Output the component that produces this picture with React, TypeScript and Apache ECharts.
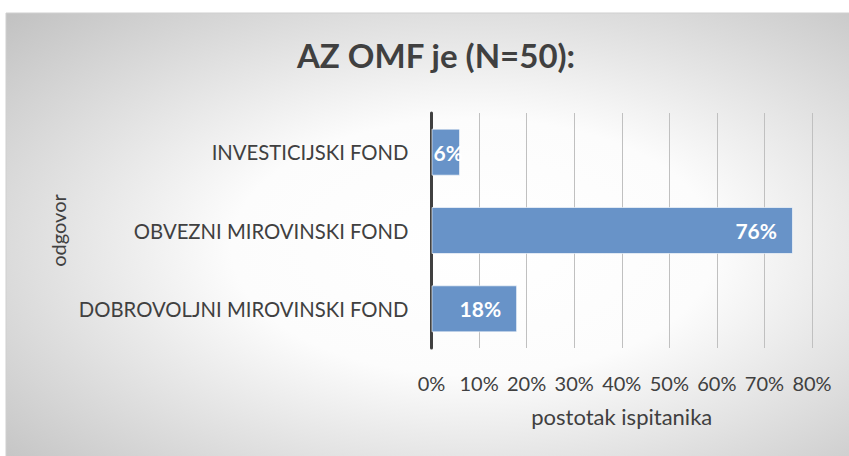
import React, { useEffect, useRef } from "react";
import * as echarts from "echarts";

const categories = ["INVESTICIJSKI FOND", "OBVEZNI MIROVINSKI FOND", "DOBROVOLJNI MIROVINSKI FOND"];
const values = [6, 76, 18];
const xTicks = { min: 0, max: 80, interval: 10 };
const titleText = "AZ OMF je (N=50):";
const xName = "postotak ispitanika";
const yName = "odgovor";

const FONT = "Lato";

export default function App() {
  const ref = useRef<HTMLDivElement>(null);
  useEffect(() => {
    if (!ref.current) return;
    const chart = echarts.init(ref.current, null, { renderer: "svg" });
    chart.setOption({
      animation: false,
      textStyle: { fontFamily: FONT },
      graphic: [
        {
          type: "rect",
          z: -100,
          silent: true,
          shape: { x: 6, y: 13, width: 850, height: 450 },
          style: {
            fill: new echarts.graphic.RadialGradient(0.55, 0.52, 0.75, [
              { offset: 0, color: "#ffffff" },
              { offset: 0.38, color: "#fcfcfc" },
              { offset: 1, color: "#c2c2c2" },
            ]),
            stroke: "#cfcfcf",
            lineWidth: 1,
          },
        },
      ],
      title: {
        text: titleText,
        left: 431,
        textAlign: "center",
        top: 33,
        textStyle: { fontFamily: FONT, fontSize: 33, fontWeight: "bold", color: "#404040" },
      },
      grid: { left: 431.5, right: 37, top: 113, bottom: 108 },
      xAxis: {
        type: "value",
        min: xTicks.min,
        max: xTicks.max,
        interval: xTicks.interval,
        axisLine: { show: false },
        axisTick: { show: false },
        splitLine: { show: true, lineStyle: { color: "#c0c0c0", width: 1 } },
        axisLabel: { formatter: "{value}%", fontSize: 20, color: "#404040", margin: 25, fontFamily: FONT },
        name: xName,
        nameLocation: "middle",
        nameGap: 57,
        nameTextStyle: { fontSize: 22, color: "#404040", fontFamily: FONT },
      },
      yAxis: {
        type: "category",
        data: categories,
        inverse: true,
        axisLine: { show: true, lineStyle: { color: "#404040", width: 3 } },
        axisTick: { show: false },
        axisLabel: { fontSize: 20.3, color: "#404040", margin: 23, fontFamily: FONT },
        name: yName,
        nameLocation: "middle",
        nameGap: 364,
        nameRotate: 90,
        nameTextStyle: { fontSize: 20, color: "#404040", fontFamily: FONT },
      },
      series: [
        {
          type: "bar",
          barWidth: "60%",
          data: values.map((v) => ({
            value: v,
            label: v < 10 ? { position: "insideLeft", distance: 2 } : undefined,
          })),
          itemStyle: { color: "#6893c8", borderColor: "rgba(255,255,255,0.6)", borderWidth: 1 },
          label: {
            show: true,
            position: "insideRight",
            distance: 16,
            formatter: "{c}%",
            color: "#ffffff",
            fontWeight: "bold",
            fontSize: 21,
            fontFamily: FONT,
          },
        },
      ],
    });
    return () => chart.dispose();
  }, []);
  return <div ref={ref} style={{ position: "absolute", left: 0, top: 0, width: 849, height: 456 }} />;
}
